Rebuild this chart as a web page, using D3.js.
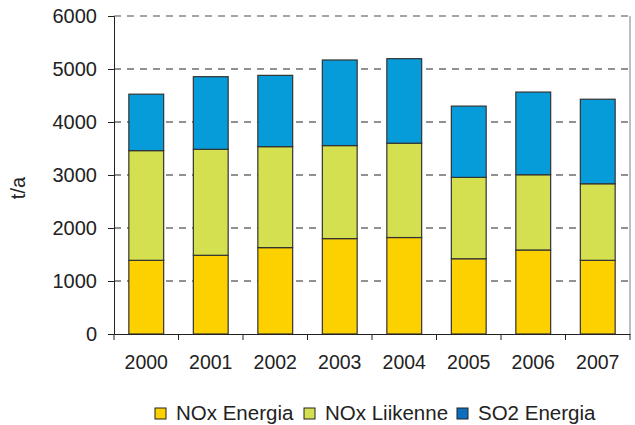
<!DOCTYPE html>
<html>
<head>
<meta charset="utf-8">
<script src="https://cdn.jsdelivr.net/npm/d3@7"></script>
<style>
	body { margin: 0; background: #fff; }
	text { font-family: "Liberation Sans", Arial, sans-serif; fill: #222; }
</style>
</head>
<body>
<div id="chart"></div>
<script>
var years = ["2000", "2001", "2002", "2003", "2004", "2005", "2006", "2007"];
var noxEnergia = [1390, 1485, 1630, 1800, 1820, 1420, 1585, 1390];
var noxLiikenne = [2070, 2000, 1905, 1755, 1780, 1535, 1420, 1445];
var so2Energia = [1065, 1370, 1345, 1615, 1595, 1345, 1560, 1595];
var seriesNames = ["NOx Energia", "NOx Liikenne", "SO2 Energia"];
var yTicks = [0, 1000, 2000, 3000, 4000, 5000, 6000];

(function(){
	var width = 635;
	var height = 425;
	var m = {left: 114, right: 5, top: 16, bottom: 91};
	var colors = ["#fdd000", "#d4e04f", "#069cda"];
	var legendColors = ["#fdd000", "#d4e04f", "#0b6fbf"];

	var svg = d3.select('#chart').append('svg')
		.attr('width', width)
		.attr('height', height);

	var x = d3.scaleBand()
		.domain(years)
		.range([m.left, width - m.right])
		.paddingInner(0.46)
		.paddingOuter(0.23);

	var y = d3.scaleLinear()
		.domain([0, 6000])
		.range([height - m.bottom, m.top]);

	var rows = years.map(function(yr, i){
		return {year: yr, a: noxEnergia[i], b: noxLiikenne[i], c: so2Energia[i]};
	});
	var stack = d3.stack().keys(["a", "b", "c"])(rows);

	// grid
	svg.append('g').selectAll('line')
		.data(yTicks.filter(function(d){ return d > 0; }))
		.enter().append('line')
		.attr('x1', m.left)
		.attr('x2', width - m.right)
		.attr('y1', function(d){ return y(d); })
		.attr('y2', function(d){ return y(d); })
		.attr('stroke', function(d){ return d == 6000 ? '#888' : '#222'; })
		.attr('stroke-width', function(d){ return d == 6000 ? 1.5 : 1; })
		.attr('stroke-dasharray', '7,6');

	// right border
	svg.append('line')
		.attr('x1', width - m.right).attr('x2', width - m.right)
		.attr('y1', y(6000)).attr('y2', y(0))
		.attr('stroke', '#aaa').attr('stroke-width', 1.5);

	// bars
	svg.append('g').selectAll('g')
		.data(stack)
		.enter().append('g')
		.attr('fill', function(d, i){ return colors[i]; })
		.selectAll('rect')
		.data(function(d){ return d; })
		.enter().append('rect')
		.attr('x', function(d){ return x(d.data.year); })
		.attr('width', x.bandwidth())
		.attr('y', function(d){ return y(d[1]); })
		.attr('height', function(d){ return y(d[0]) - y(d[1]); })
		.attr('stroke', '#333')
		.attr('stroke-width', 1.2);

	// y axis
	var yAxis = svg.append('g')
		.attr('transform', 'translate(' + m.left + ',0)')
		.call(d3.axisLeft(y).tickValues(yTicks).tickSize(6).tickPadding(11).tickFormat(d3.format('d')));
	yAxis.select('.domain').attr('stroke', '#222');
	yAxis.selectAll('.tick line').attr('stroke', '#222');
	yAxis.selectAll('text').style('font-size', '20px').attr('fill', '#222');

	// x axis
	var xAxis = svg.append('g')
		.attr('transform', 'translate(0,' + y(0) + ')')
		.call(d3.axisBottom(x).tickSize(0).tickPadding(21));
	xAxis.select('.domain').attr('stroke', '#222');
	xAxis.selectAll('text').style('font-size', '19.5px').attr('fill', '#222');
	xAxis.selectAll('.sep')
		.data(d3.range(years.length + 1))
		.enter().append('line')
		.attr('x1', function(i){ return m.left + i * (width - m.right - m.left) / years.length; })
		.attr('x2', function(i){ return m.left + i * (width - m.right - m.left) / years.length; })
		.attr('y1', 0).attr('y2', 6)
		.attr('stroke', '#222');

	// axis title
	svg.append('text')
		.attr('transform', 'translate(25,188) rotate(-90)')
		.attr('text-anchor', 'middle')
		.style('font-size', '20px')
		.text('t/a');

	// legend
	var lx = [155, 304, 457];
	var leg = svg.append('g').selectAll('g')
		.data(seriesNames)
		.enter().append('g')
		.attr('transform', function(d, i){ return 'translate(' + lx[i] + ',408)'; });
	leg.append('rect')
		.attr('width', 11).attr('height', 11)
		.attr('fill', function(d, i){ return legendColors[i]; })
		.attr('stroke', '#222').attr('stroke-width', 1);
	leg.append('text')
		.attr('x', 21).attr('y', 12)
		.style('font-size', '20.5px')
		.text(function(d){ return d; });
})();
</script>
</body>
</html>
